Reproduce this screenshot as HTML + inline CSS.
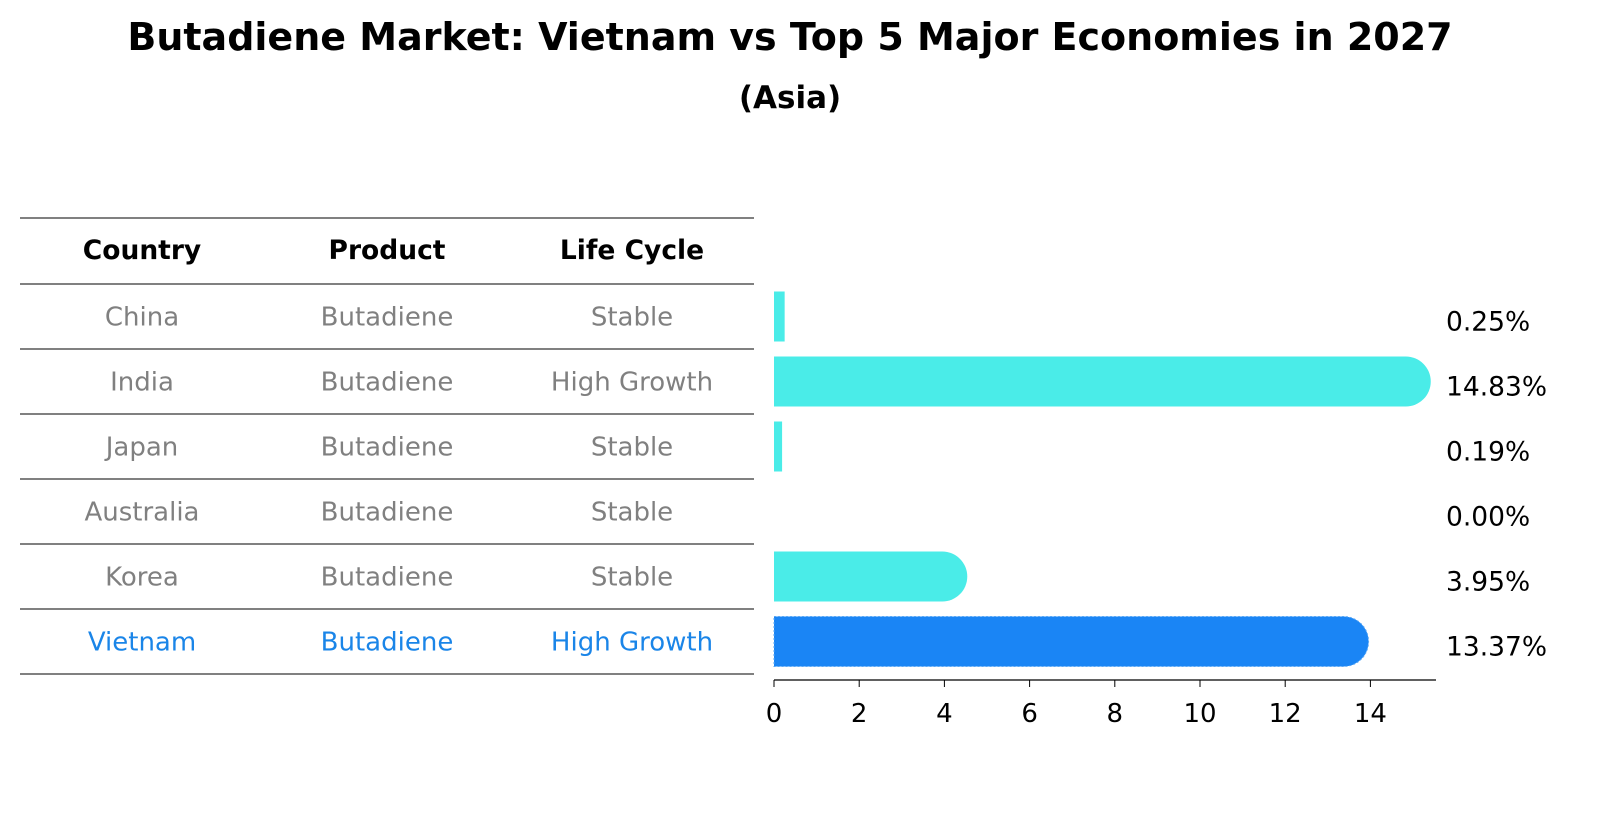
<!DOCTYPE html>
<html><head><meta charset="utf-8"><style>
body{margin:0;background:#fff;font-family:"Liberation Sans","DejaVu Sans",sans-serif;}
svg text{font-family:"DejaVu Sans","Liberation Sans",sans-serif;}
</style></head><body>
<svg width="1604" height="823" xmlns="http://www.w3.org/2000/svg">
<text x="790" y="50" text-anchor="middle" font-size="38" font-weight="bold">Butadiene Market: Vietnam vs Top 5 Major Economies in 2027</text>
<text x="790" y="108" text-anchor="middle" font-size="31" font-weight="bold">(Asia)</text>
<g id="table"></g>
<g id="bars"></g>
</svg>
<script>
const countries=["China","India","Japan","Australia","Korea","Vietnam"];
const products=["Butadiene","Butadiene","Butadiene","Butadiene","Butadiene","Butadiene"];
const lifeCycles=["Stable","High Growth","Stable","Stable","Stable","High Growth"];
const values=[0.25,14.83,0.19,0.00,3.95,13.37];
const ticks=[0,2,4,6,8,10,12,14];
const NS="http://www.w3.org/2000/svg";
const tbl=document.getElementById('table'),bars=document.getElementById('bars');
function mk(tag,attrs,parent,txt){const e=document.createElementNS(NS,tag);for(const k in attrs)e.setAttribute(k,attrs[k]);if(txt!==undefined)e.textContent=txt;parent.appendChild(e);return e;}
const rowTop=284,rowH=65,colX=[142,387,632];
const x=v=>774+v*42.6;
const rowY=i=>rowTop+i*rowH+rowH/2;
const lines=[218,284];for(let i=1;i<=countries.length;i++)lines.push(rowTop+i*rowH);
lines.forEach((ly,i)=>{const l=mk('line',{x1:20,x2:754,y1:ly,y2:ly,stroke:'#000','stroke-width':1},tbl);

});
["Country","Product","Life Cycle"].forEach((h,j)=>{const t=mk('text',{x:colX[j],y:259,'text-anchor':'middle','font-size':26.5,'font-weight':'bold'},tbl,h);

});
countries.forEach((c,i)=>{const col=c==="Vietnam"?"#1a85e8":"#808080";
[c,products[i],lifeCycles[i]].forEach((s,j)=>{const t=mk('text',{x:colX[j],y:rowY(i)+9,'text-anchor':'middle','font-size':26,fill:col},tbl,s);

});
const v=values[i],y0=rowY(i)-25,fill=c==="Vietnam"?"#1a85f5":"#4aece8";
if(v>0){let d;
if(v>1){d=`M${x(0)},${y0}H${x(v)}A25,25 0 0 1 ${x(v)},${y0+50}H${x(0)}Z`;}else{d=`M${x(0)},${y0}H${x(v)}V${y0+50}H${x(0)}Z`;}
const b=mk('path',{d:d,fill:fill},bars);
if(c==="Vietnam"){b.setAttribute('stroke','#5aa8f5');b.setAttribute('stroke-dasharray','2,2');}

}
const lbl=mk('text',{x:1446,y:rowY(i)+14,'font-size':26.5},bars,v.toFixed(2)+'%');

});
const ax=mk('line',{x1:774,x2:1436,y1:680,y2:680,stroke:'#000','stroke-width':1.2},bars);


ticks.forEach(t=>{const tk=mk('line',{x1:x(t),x2:x(t),y1:680,y2:687,stroke:'#000'},bars);


const tl=mk('text',{x:x(t),y:722,'text-anchor':'middle','font-size':26},bars,String(t));

});
</script>
</body></html>
